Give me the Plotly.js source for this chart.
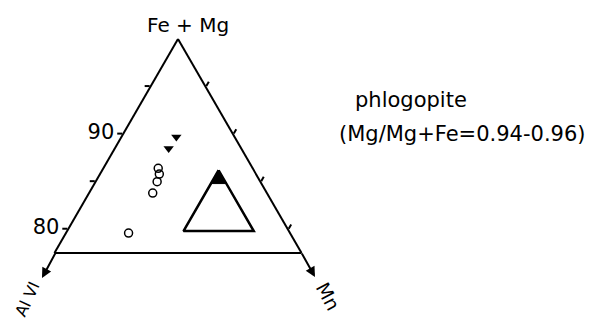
<!DOCTYPE html>
<html>
<head>
<meta charset="utf-8">
<script src="https://cdn.plot.ly/plotly-3.0.1.min.js"></script>
<style>
  body { margin: 0; background: #fff; }
  #chart { width: 594px; height: 322px; }
</style>
</head>
<body>
<div id="chart"></div>
<script>
// points (a = Fe+Mg, b = Al VI, c = Mn)
var triA = [89.7, 88.5];
var triB = [5.3, 6.6];
var triC = [5.0, 4.9];

var circA = [86.4, 85.8, 85.0, 83.8, 79.6];
var circB = [8.6, 8.8, 9.4, 10.4, 14.7];
var circC = [5.0, 5.4, 5.6, 5.8, 5.7];

// big open triangle and its black tip
var boxA = [86.2, 79.8, 79.8, 86.2];
var boxB = [3.2, 9.6, 3.2, 3.2];
var boxC = [10.6, 10.6, 17.0, 10.6];

var tipA = [86.2, 84.8, 84.8, 86.2];
var tipB = [3.2, 4.6, 3.2, 3.2];
var tipC = [10.6, 10.6, 12.0, 10.6];

var aTicks = [80, 85, 90, 95];
var aTickText = ["80", "", "90", ""];
var cTicks = [5, 10, 15, 20];

var fontFam = "DejaVu Sans, sans-serif";

// plot area is 594 wide, 214 high starting at y=39
var W = 594, T = 39, H = 214;
function px(x) { return x / W; }
function py(y) { return 1 - (y - T) / H; }

var traceBox = {
  type: "scatterternary",
  mode: "lines",
  a: boxA, b: boxB, c: boxC,
  fill: "toself",
  fillcolor: "white",
  line: { color: "black", width: 2.5 },
  hoverinfo: "skip"
};

var traceTip = {
  type: "scatterternary",
  mode: "lines",
  a: tipA, b: tipB, c: tipC,
  fill: "toself",
  fillcolor: "black",
  line: { color: "black", width: 1 },
  hoverinfo: "skip"
};

var traceTri = {
  type: "scatterternary",
  mode: "markers",
  a: triA, b: triB, c: triC,
  marker: { symbol: "triangle-down", size: 9, color: "black" }
};

var traceCirc = {
  type: "scatterternary",
  mode: "markers",
  a: circA, b: circB, c: circC,
  marker: { symbol: "circle-open", size: 8, color: "black", line: { width: 1.5 } }
};

var axisBase = {
  showgrid: false,
  linecolor: "black",
  linewidth: 2,
  tickcolor: "black",
  tickwidth: 2
};

function label(x, y, text, size, angle) {
  return {
    xref: "paper", yref: "paper",
    x: px(x), y: py(y),
    xanchor: "center", yanchor: "middle",
    text: text, textangle: angle || 0, showarrow: false,
    font: { size: size, family: fontFam }
  };
}

var layout = {
  width: 594,
  height: 322,
  margin: { l: 0, r: 0, t: 39, b: 69 },
  paper_bgcolor: "white",
  showlegend: false,
  font: { family: fontFam, color: "black" },
  ternary: {
    sum: 100,
    domain: { x: [0, 0.5993], y: [0, 1] },
    bgcolor: "white",
    aaxis: Object.assign({}, axisBase, {
      min: 77.5,
      tickmode: "array",
      tickvals: aTicks,
      ticktext: aTickText,
      ticks: "outside",
      ticklen: 5,
      tickfont: { size: 21, family: fontFam },
      title: { text: "" }
    }),
    baxis: Object.assign({}, axisBase, {
      min: 0,
      ticks: "",
      showticklabels: false,
      title: { text: "" }
    }),
    caxis: Object.assign({}, axisBase, {
      min: 0,
      tickmode: "array",
      tickvals: cTicks,
      ticks: "outside",
      ticklen: 5,
      showticklabels: false,
      title: { text: "" }
    })
  },
  annotations: [
    {
      xref: "paper", yref: "paper",
      x: px(42), y: py(278),
      ax: 14, ay: -26,
      text: "", showarrow: true,
      arrowhead: 2, arrowsize: 1, arrowwidth: 2, arrowcolor: "black"
    },
    {
      xref: "paper", yref: "paper",
      x: px(315), y: py(277),
      ax: -14, ay: -25,
      text: "", showarrow: true,
      arrowhead: 2, arrowsize: 1, arrowwidth: 2, arrowcolor: "black"
    },
    label(188, 25, "Fe + Mg", 20),
    label(27, 299, "Al VI", 16, -65),
    label(328, 296, "Mn", 19, 62),
    label(411, 100, "phlogopite", 21),
    label(462, 134, "(Mg/Mg+Fe=0.94-0.96)", 21)
  ]
};

Plotly.newPlot("chart", [traceBox, traceTip, traceTri, traceCirc], layout, { displayModeBar: false, staticPlot: true });
</script>
</body>
</html>
